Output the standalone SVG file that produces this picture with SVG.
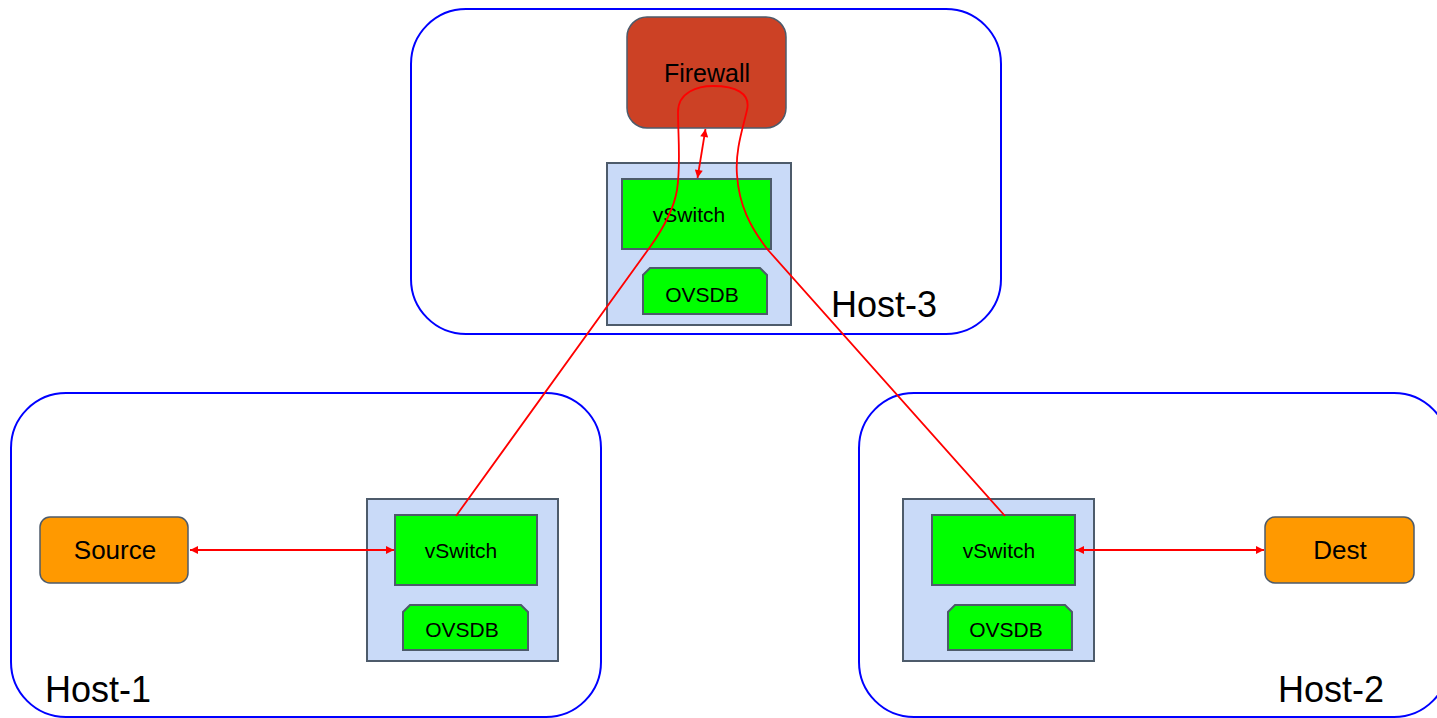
<svg xmlns="http://www.w3.org/2000/svg" width="1437" height="718" viewBox="0 0 1437 718">
<defs>
<style>
.host{fill:#ffffff;stroke:#0000ff;stroke-width:2}
.cont{fill:#c9daf8;stroke:#4d5b6b;stroke-width:2}
.sw{fill:#00ff00;stroke:#4d5b6b;stroke-width:2}
.ep{fill:#ff9900;stroke:#4d5b6b;stroke-width:1.5}
.fw{fill:#cc4125;stroke:#4d5b6b;stroke-width:1.5}
.t{font-family:"Liberation Sans",Arial,sans-serif;fill:#000000;text-anchor:middle}
.ht{font-family:"Liberation Sans",Arial,sans-serif;fill:#000000;font-size:36px}
.link{fill:none;stroke:#ff0000;stroke-width:1.8}
</style>
<marker id="ah" viewBox="0 0 10 10" refX="10" refY="5" markerWidth="9" markerHeight="8" markerUnits="userSpaceOnUse" orient="auto-start-reverse">
<path d="M0,0 L10,5 L0,10 z" fill="#ff0000"/>
</marker>
</defs>

<g id="host-3">
<rect class="host" x="411" y="9" width="590" height="325" rx="55" ry="55"/>
<text class="ht" x="831" y="317">Host-3</text>
</g>
<g id="host-1">
<rect class="host" x="11" y="393" width="590" height="324" rx="55" ry="55"/>
<text class="ht" x="45" y="702">Host-1</text>
</g>
<g id="host-2">
<rect class="host" x="859" y="393" width="590" height="324" rx="55" ry="55"/>
<text class="ht" x="1278" y="702">Host-2</text>
</g>

<g id="firewall">
<rect class="fw" x="627" y="17" width="159" height="111" rx="20" ry="20"/>
<text class="t" x="707" y="82" font-size="25">Firewall</text>
</g>

<g id="switch-3">
<rect class="cont" x="607" y="163" width="184" height="162"/>
<rect class="sw" x="622" y="179" width="149" height="70"/>
<text class="t" x="689" y="222" font-size="21">vSwitch</text>
<path class="sw" d="M650,268 L760,268 L767,275 L767,314 L643,314 L643,275 Z"/>
<text class="t" x="702" y="302" font-size="21">OVSDB</text>
</g>

<g id="switch-1">
<rect class="cont" x="367" y="499" width="191" height="162"/>
<rect class="sw" x="395" y="515" width="142" height="70"/>
<text class="t" x="461" y="558" font-size="21">vSwitch</text>
<path class="sw" d="M410,605 L521,605 L528,612 L528,650 L403,650 L403,612 Z"/>
<text class="t" x="462" y="637" font-size="21">OVSDB</text>
</g>

<g id="switch-2">
<rect class="cont" x="903" y="499" width="191" height="162"/>
<rect class="sw" x="932" y="515" width="143" height="70"/>
<text class="t" x="999" y="558" font-size="21">vSwitch</text>
<path class="sw" d="M955,605 L1065,605 L1072,612 L1072,650 L948,650 L948,612 Z"/>
<text class="t" x="1006" y="637" font-size="21">OVSDB</text>
</g>

<g id="source">
<rect class="ep" x="40" y="517" width="148" height="66" rx="10" ry="10"/>
<text class="t" x="115" y="559" font-size="26">Source</text>
</g>

<g id="dest">
<rect class="ep" x="1265" y="517" width="149" height="66" rx="10" ry="10"/>
<text class="t" x="1340" y="559" font-size="26">Dest</text>
</g>

<g id="connectors">
<line class="link" x1="190" y1="550" x2="394" y2="550" marker-start="url(#ah)" marker-end="url(#ah)"/>
<line class="link" x1="1076" y1="550" x2="1264" y2="550" marker-start="url(#ah)" marker-end="url(#ah)"/>
<line class="link" x1="705.5" y1="129" x2="697.5" y2="178" marker-start="url(#ah)" marker-end="url(#ah)"/>
<path class="link" d="M456,516 L650,247 C665,226 674,208 677,190 C681,165 678,135 678,112 C678,92 698,86 713,86 C735,86 751,93 747,110 C743,128 735,150 737,175 C739,205 750,227 768,250 L1005,516"/>
</g>
</svg>
